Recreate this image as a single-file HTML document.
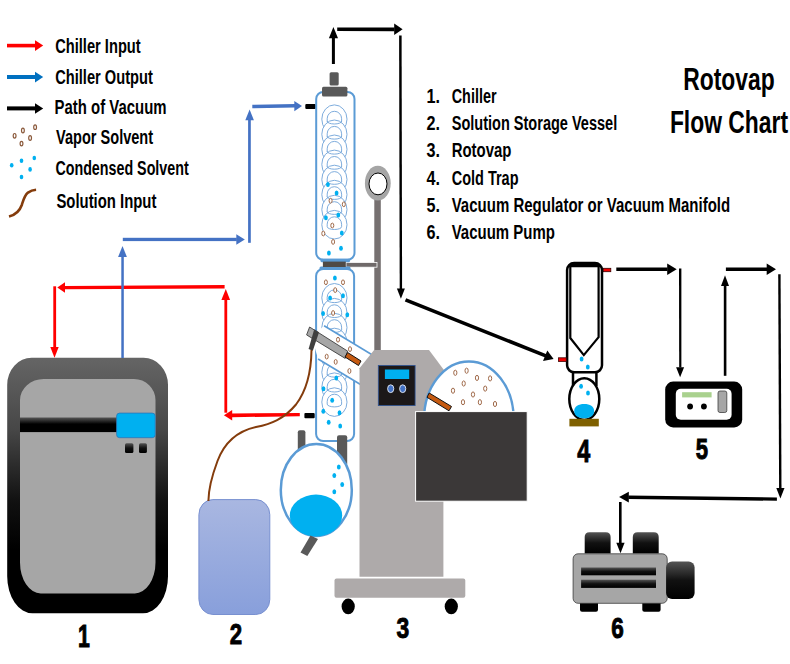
<!DOCTYPE html>
<html><head><meta charset="utf-8">
<style>
html,body{margin:0;padding:0;background:#fff;width:790px;height:664px;overflow:hidden}
svg{display:block}
text{font-family:"Liberation Sans",sans-serif;font-weight:bold;fill:#000}
</style></head>
<body>
<svg width="790" height="664" viewBox="0 0 790 664">
<defs>
<linearGradient id="chg" x1="0" y1="0" x2="0" y2="1">
<stop offset="0" stop-color="#656565"/><stop offset="0.28" stop-color="#474747"/><stop offset="0.56" stop-color="#111"/><stop offset="0.75" stop-color="#000"/><stop offset="1" stop-color="#000"/>
</linearGradient>
<linearGradient id="barg" x1="0" y1="0" x2="0" y2="1">
<stop offset="0" stop-color="#555"/><stop offset="0.45" stop-color="#000"/><stop offset="1" stop-color="#000"/>
</linearGradient>
<linearGradient id="vesg" x1="0" y1="0" x2="0" y2="1">
<stop offset="0" stop-color="#a9b7e1"/><stop offset="1" stop-color="#889fdb"/>
</linearGradient>
<linearGradient id="knobg" x1="0" y1="0" x2="0" y2="1">
<stop offset="0" stop-color="#555"/><stop offset="0.5" stop-color="#111"/><stop offset="1" stop-color="#000"/>
</linearGradient>
</defs>

<!-- ===== LEGEND ===== -->
<g id="legend">
<rect x="7" y="43.8" width="29" height="3.6" fill="#f00"/>
<polygon points="35,40.2 43.2,45.6 35,51" fill="#f00"/>
<rect x="7" y="75" width="29" height="4" fill="#0070c0"/>
<polygon points="35,71.8 43.2,77 35,82.4" fill="#0070c0"/>
<rect x="7" y="106.4" width="29" height="4" fill="#000"/>
<polygon points="35,103.2 43.2,108.5 35,113.8" fill="#000"/>
<text x="55.2" y="52.5" font-size="19.4" textLength="85.5" lengthAdjust="spacingAndGlyphs">Chiller Input</text>
<text x="55.2" y="83.8" font-size="19.4" textLength="97.6" lengthAdjust="spacingAndGlyphs">Chiller Output</text>
<text x="54.6" y="114.2" font-size="19.4" textLength="112" lengthAdjust="spacingAndGlyphs">Path of Vacuum</text>
<text x="56.1" y="143.7" font-size="19.4" textLength="97" lengthAdjust="spacingAndGlyphs">Vapor Solvent</text>
<text x="55.4" y="174.9" font-size="19.4" textLength="133.3" lengthAdjust="spacingAndGlyphs">Condensed Solvent</text>
<text x="56.4" y="207.8" font-size="19.4" textLength="100" lengthAdjust="spacingAndGlyphs">Solution Input</text>
<g fill="none" stroke="#8b5a3c" stroke-width="1.2">
<ellipse cx="22.9" cy="130.5" rx="1.4" ry="2.3"/>
<ellipse cx="35.1" cy="127.2" rx="1.4" ry="2.3"/>
<ellipse cx="14.6" cy="135.8" rx="1.4" ry="2.3"/>
<ellipse cx="30.1" cy="138" rx="1.4" ry="2.3"/>
<ellipse cx="21.5" cy="143.6" rx="1.4" ry="2.3"/>
</g>
<g fill="#00b0f0">
<ellipse cx="11.7" cy="165.2" rx="1.8" ry="2.3"/>
<ellipse cx="21.5" cy="160.7" rx="1.8" ry="2.3"/>
<ellipse cx="34.3" cy="158" rx="1.8" ry="2.3"/>
<ellipse cx="30.1" cy="169.4" rx="1.8" ry="2.3"/>
<ellipse cx="21.5" cy="177" rx="1.8" ry="2.3"/>
</g>
<path d="M9,216.6 C15,215 19.5,211.5 21.8,205 C23.5,199.5 24.5,195.5 28,192.6 C30.5,190.8 33,190 36.1,189.8" fill="none" stroke="#843c0c" stroke-width="2.6"/>
</g>

<!-- ===== CHILLER (1) ===== -->
<g id="chiller">
<path d="M31.6,357.8 H143.5 A24.5,27 0 0 1 168,384.8 V576.3 A25,37 0 0 1 143,613.3 H32.5 A25.3,37 0 0 1 7.2,576.3 V384.8 A24.4,27 0 0 1 31.6,357.8 Z" fill="url(#chg)"/>
<path d="M43.7,379 H134 A21.5,21 0 0 1 155.5,400 V562.4 A20.7,31 0 0 1 134.8,593.4 H40.7 A20.7,31 0 0 1 20,562.4 V400 A23.7,21 0 0 1 43.7,379 Z" fill="#a6a6a6"/>
<rect x="20" y="417.5" width="98" height="14.6" fill="url(#barg)"/>
<rect x="116.6" y="413.1" width="38.6" height="24.6" rx="3" fill="#00b0f0" stroke="#2e75b6" stroke-width="0.8"/>
<rect x="125" y="443.2" width="8.4" height="9.7" rx="1.5" fill="url(#knobg)"/>
<rect x="139" y="443.2" width="7.9" height="9.7" rx="1.5" fill="url(#knobg)"/>
</g>
<text transform="translate(77.91,646.75) scale(0.662,1)" font-size="32.12" stroke="#000" stroke-width="1.06">1</text>

<!-- ===== CHILLER LINES ===== -->
<g id="redlines" fill="#f00">
<rect x="53.3" y="286.3" width="2.8" height="61"/>
<polygon points="50.3,347 58.7,347 54.5,357.8"/>
<polygon points="64.8,286 224.6,285 224.6,288.4 64.8,289.2"/>
<polygon points="57.3,287.6 65,282.3 65,292.8"/>
<rect x="224.4" y="299" width="2.8" height="113.7"/>
<polygon points="221.4,300 230.1,300 225.8,289.1"/>
<polygon points="232,413.5 299.8,412.9 299.8,416.2 232,417.2"/>
<polygon points="223.9,415.3 232.2,410.1 232.2,420.5"/>
</g>
<g id="bluelines" fill="#4472c4">
<rect x="121.3" y="256" width="2.5" height="102"/>
<polygon points="118.1,257 126.9,257 122.5,245.9"/>
<rect x="122.8" y="237.8" width="114" height="3.3"/>
<polygon points="236.3,234.2 244.8,239.4 236.3,244.8"/>
<rect x="248.1" y="118" width="2.7" height="124.8"/>
<polygon points="245.3,120.2 253.9,120.2 249.6,109.4"/>
<polygon points="252.3,104.8 295,104 295,107.5 252.3,108.2"/>
<polygon points="294.3,100.9 302,105.9 294.3,111.2"/>
</g>
<rect x="305.3" y="104.1" width="10.5" height="5" rx="1" fill="#000"/>
<rect x="304.4" y="413.1" width="10.3" height="5.2" rx="1" fill="#000"/>

<!-- ===== STORAGE VESSEL (2) ===== -->
<rect x="198.9" y="499.6" width="70.9" height="114.9" rx="14" ry="15" fill="url(#vesg)" stroke="#7890d0" stroke-width="1"/>

<text transform="translate(229.68,643.65) scale(0.739,1)" font-size="30.08" stroke="#000" stroke-width="0.95">2</text>

<!-- ===== ROTOVAP (3) ===== -->
<g id="rotovap">
<!-- pole + ring -->
<rect x="374.3" y="195" width="6.5" height="160" fill="#767070"/>
<ellipse cx="377.8" cy="183.2" rx="12.9" ry="17.4" fill="#a5a5a5"/>
<ellipse cx="378" cy="183.9" rx="9" ry="10.9" fill="#fff" stroke="#000" stroke-width="1"/>
<rect x="346" y="262.4" width="31" height="4.8" fill="#6f6969" stroke="#fff" stroke-width="0.8"/>
<!-- condensers -->
<rect x="316.2" y="92" width="38.3" height="167.8" rx="7" fill="#fff" stroke="#5b9bd5" stroke-width="2"/>
<rect x="316.1" y="269" width="38" height="172" rx="7" fill="#fff" stroke="#5b9bd5" stroke-width="2"/>
<g fill="none" stroke="#6fa3d8" stroke-width="0.9">
<ellipse cx="334.4" cy="119.2" rx="12.6" ry="14.3" fill="#fff"/><path d="M327.2,121.2 V118.7 A7.2,7.4 0 0 1 341.6,118.7 V121.2 A7.2,2.8 0 0 1 327.2,121.2 Z"/><ellipse cx="334.4" cy="134.3" rx="12.6" ry="14.3" fill="#fff"/><path d="M327.2,136.3 V133.8 A7.2,7.4 0 0 1 341.6,133.8 V136.3 A7.2,2.8 0 0 1 327.2,136.3 Z"/><ellipse cx="334.4" cy="149.3" rx="12.6" ry="14.3" fill="#fff"/><path d="M327.2,151.3 V148.8 A7.2,7.4 0 0 1 341.6,148.8 V151.3 A7.2,2.8 0 0 1 327.2,151.3 Z"/><ellipse cx="334.4" cy="164.4" rx="12.6" ry="14.3" fill="#fff"/><path d="M327.2,166.4 V163.9 A7.2,7.4 0 0 1 341.6,163.9 V166.4 A7.2,2.8 0 0 1 327.2,166.4 Z"/><ellipse cx="334.4" cy="179.5" rx="12.6" ry="14.3" fill="#fff"/><path d="M327.2,181.5 V179.0 A7.2,7.4 0 0 1 341.6,179.0 V181.5 A7.2,2.8 0 0 1 327.2,181.5 Z"/><ellipse cx="334.4" cy="194.6" rx="12.6" ry="14.3" fill="#fff"/><path d="M327.2,196.6 V194.1 A7.2,7.4 0 0 1 341.6,194.1 V196.6 A7.2,2.8 0 0 1 327.2,196.6 Z"/><ellipse cx="334.4" cy="209.6" rx="12.6" ry="14.3" fill="#fff"/><path d="M327.2,211.6 V209.1 A7.2,7.4 0 0 1 341.6,209.1 V211.6 A7.2,2.8 0 0 1 327.2,211.6 Z"/><ellipse cx="334.4" cy="224.7" rx="12.6" ry="14.3" fill="#fff"/><path d="M327.2,226.7 V224.2 A7.2,7.4 0 0 1 341.6,224.2 V226.7 A7.2,2.8 0 0 1 327.2,226.7 Z"/><ellipse cx="334.4" cy="297.8" rx="12.6" ry="14.3" fill="#fff"/><path d="M327.2,299.8 V297.3 A7.2,7.4 0 0 1 341.6,297.3 V299.8 A7.2,2.8 0 0 1 327.2,299.8 Z"/><ellipse cx="334.4" cy="312.7" rx="12.6" ry="14.3" fill="#fff"/><path d="M327.2,314.7 V312.2 A7.2,7.4 0 0 1 341.6,312.2 V314.7 A7.2,2.8 0 0 1 327.2,314.7 Z"/><ellipse cx="334.4" cy="327.6" rx="12.6" ry="14.3" fill="#fff"/><path d="M327.2,329.6 V327.1 A7.2,7.4 0 0 1 341.6,327.1 V329.6 A7.2,2.8 0 0 1 327.2,329.6 Z"/><ellipse cx="334.4" cy="342.5" rx="12.6" ry="14.3" fill="#fff"/><path d="M327.2,344.5 V342.0 A7.2,7.4 0 0 1 341.6,342.0 V344.5 A7.2,2.8 0 0 1 327.2,344.5 Z"/><ellipse cx="334.4" cy="357.4" rx="12.6" ry="14.3" fill="#fff"/><path d="M327.2,359.4 V356.9 A7.2,7.4 0 0 1 341.6,356.9 V359.4 A7.2,2.8 0 0 1 327.2,359.4 Z"/><ellipse cx="334.4" cy="372.3" rx="12.6" ry="14.3" fill="#fff"/><path d="M327.2,374.3 V371.8 A7.2,7.4 0 0 1 341.6,371.8 V374.3 A7.2,2.8 0 0 1 327.2,374.3 Z"/><ellipse cx="334.4" cy="387.2" rx="12.6" ry="14.3" fill="#fff"/><path d="M327.2,389.2 V386.7 A7.2,7.4 0 0 1 341.6,386.7 V389.2 A7.2,2.8 0 0 1 327.2,389.2 Z"/><ellipse cx="334.4" cy="402.1" rx="12.6" ry="14.3" fill="#fff"/><path d="M327.2,404.1 V401.6 A7.2,7.4 0 0 1 341.6,401.6 V404.1 A7.2,2.8 0 0 1 327.2,404.1 Z"/><path d="M327.2,121.2 A7.2,2.8 0 0 0 341.6,121.2"/><path d="M327.2,136.3 A7.2,2.8 0 0 0 341.6,136.3"/><path d="M327.2,151.3 A7.2,2.8 0 0 0 341.6,151.3"/><path d="M327.2,166.4 A7.2,2.8 0 0 0 341.6,166.4"/><path d="M327.2,181.5 A7.2,2.8 0 0 0 341.6,181.5"/><path d="M327.2,196.6 A7.2,2.8 0 0 0 341.6,196.6"/><path d="M327.2,211.6 A7.2,2.8 0 0 0 341.6,211.6"/><path d="M327.2,299.8 A7.2,2.8 0 0 0 341.6,299.8"/><path d="M327.2,314.7 A7.2,2.8 0 0 0 341.6,314.7"/><path d="M327.2,329.6 A7.2,2.8 0 0 0 341.6,329.6"/><path d="M327.2,344.5 A7.2,2.8 0 0 0 341.6,344.5"/><path d="M327.2,359.4 A7.2,2.8 0 0 0 341.6,359.4"/><path d="M327.2,374.3 A7.2,2.8 0 0 0 341.6,374.3"/><path d="M327.2,389.2 A7.2,2.8 0 0 0 341.6,389.2"/>
</g>
<rect x="320.5" y="258.8" width="29.5" height="3.4" rx="1.5" fill="#5b9bd5"/>
<rect x="319.5" y="266.6" width="31" height="3.4" rx="1.5" fill="#5b9bd5"/>
<rect x="322.9" y="261.6" width="22.9" height="5.4" fill="#4f4a46"/>
<rect x="329.6" y="72.3" width="9.1" height="13.2" rx="1.5" fill="#595959"/>
<rect x="322" y="86.7" width="25.4" height="9.9" rx="1.5" fill="#595959"/>
</g>

<!-- condenser drops -->
<g fill="#00b0f0"><ellipse cx="327.9" cy="184.4" rx="1.9" ry="2.5"/><ellipse cx="336.6" cy="193.1" rx="1.9" ry="2.5"/><ellipse cx="325.9" cy="217.8" rx="1.9" ry="2.5"/><ellipse cx="338.3" cy="215.0" rx="1.9" ry="2.5"/><ellipse cx="341.8" cy="233.1" rx="1.9" ry="2.5"/><ellipse cx="328.9" cy="253.0" rx="1.9" ry="2.5"/><ellipse cx="341.0" cy="248.2" rx="1.9" ry="2.5"/><ellipse cx="334.9" cy="278.0" rx="1.9" ry="2.5"/><ellipse cx="330.1" cy="298.0" rx="1.9" ry="2.5"/><ellipse cx="343.0" cy="295.8" rx="1.9" ry="2.5"/><ellipse cx="323.1" cy="313.6" rx="1.9" ry="2.5"/><ellipse cx="347.3" cy="314.8" rx="1.9" ry="2.5"/><ellipse cx="336.3" cy="377.9" rx="1.9" ry="2.5"/><ellipse cx="323.5" cy="388.8" rx="1.9" ry="2.5"/><ellipse cx="332.2" cy="400.3" rx="1.9" ry="2.5"/><ellipse cx="323.3" cy="411.2" rx="1.9" ry="2.5"/><ellipse cx="339.5" cy="412.8" rx="1.9" ry="2.5"/><ellipse cx="328.7" cy="422.3" rx="1.9" ry="2.5"/><ellipse cx="340.2" cy="426.1" rx="1.9" ry="2.5"/></g>
<g fill="#fff" stroke="#a06a4a" stroke-width="1"><ellipse cx="330.6" cy="200.7" rx="1.5" ry="2.4"/><ellipse cx="343.8" cy="204.3" rx="1.5" ry="2.4"/><ellipse cx="332.3" cy="225.5" rx="1.5" ry="2.4"/><ellipse cx="323.3" cy="233.5" rx="1.5" ry="2.4"/><ellipse cx="333.1" cy="241.9" rx="1.5" ry="2.4"/><ellipse cx="325.9" cy="282.3" rx="1.5" ry="2.4"/><ellipse cx="343.0" cy="282.3" rx="1.5" ry="2.4"/><ellipse cx="335.2" cy="290.1" rx="1.5" ry="2.4"/><ellipse cx="333.1" cy="313.0" rx="1.5" ry="2.4"/></g>

<!-- receiving flask -->
<rect x="297.8" y="430.3" width="7.6" height="25" rx="2" fill="#595959"/>
<rect x="337" y="435.3" width="10.2" height="30" rx="2" fill="#595959"/>
<ellipse cx="316.3" cy="489.9" rx="35.5" ry="46" fill="#fff" stroke="#5b9bd5" stroke-width="2.5"/>
<ellipse cx="316" cy="515.5" rx="26.2" ry="20.9" fill="#00b0f0"/>
<g fill="#00b0f0"><ellipse cx="338.8" cy="466.9" rx="1.9" ry="2.5"/><ellipse cx="334.3" cy="475.5" rx="1.9" ry="2.5"/><ellipse cx="342.2" cy="484.5" rx="1.9" ry="2.5"/><ellipse cx="334.3" cy="491.7" rx="1.9" ry="2.5"/></g>
<polygon points="310.5,535.5 318,539 307.3,556 300.5,552.5" fill="#595959"/>
<!-- vapor duct -->
<polygon points="324.1,325.8 384,362 368,389 318.1,359 314,345 316,333" fill="#fff"/>
<line x1="324.1" y1="325.8" x2="384" y2="362" stroke="#5b9bd5" stroke-width="1.6"/>
<line x1="318.1" y1="359" x2="368" y2="389" stroke="#5b9bd5" stroke-width="1.6"/>
<g fill="#fff" stroke="#a06a4a" stroke-width="1">
<ellipse cx="338" cy="339.7" rx="1.5" ry="2.4"/><ellipse cx="350" cy="349.1" rx="1.5" ry="2.4"/><ellipse cx="326.7" cy="356.6" rx="1.5" ry="2.4"/><ellipse cx="349.4" cy="371" rx="1.5" ry="2.4"/><ellipse cx="335.7" cy="361.9" rx="1.5" ry="2.4"/>
</g>
<!-- rod -->
<polygon points="309.6,327 347.6,351.1 345.2,358.4 306.6,334.9" fill="#a6a6a6" stroke="#404040" stroke-width="0.9"/>
<polygon points="347.6,352.5 361,361 358.5,365.5 345,357" fill="#c55a11" stroke="#111" stroke-width="1"/>
<polygon points="314.2,329.2 319,332.2 312.8,350.8 308.6,349" fill="#3f3f3f"/>
<!-- solution tube upper -->
<path d="M311.5,350 C311.2,372 305.5,392 296,404.5 C284,419 271,424 256,427 C238,431 225,441 217.5,461 C211.5,477 208.5,490 208.4,501" fill="none" stroke="#843c0c" stroke-width="2"/>
<!-- body -->
<polygon points="374.1,349.9 429,349.9 443.4,369.2 443.4,576.7 359.5,576.7 359.5,368.3" fill="#aeaaaa"/>
<rect x="378.3" y="365.4" width="36.8" height="40.2" fill="#1c1818" stroke="#2f5597" stroke-width="0.8"/>
<rect x="384.9" y="369.5" width="24.3" height="9.5" fill="#00b0f0"/>
<ellipse cx="390.7" cy="388.7" rx="3.1" ry="3.9" fill="#4472c4" stroke="#fff" stroke-width="0.8"/>
<ellipse cx="402.7" cy="388.7" rx="3.1" ry="3.9" fill="#4472c4" stroke="#fff" stroke-width="0.8"/>
<!-- evaporating flask -->
<ellipse cx="468.9" cy="419" rx="44.8" ry="57.5" fill="#fff" stroke="#5b9bd5" stroke-width="2.4"/>
<g fill="#fff" stroke="#a06a4a" stroke-width="1">
<ellipse cx="455.3" cy="372.8" rx="1.6" ry="2.6"/><ellipse cx="466.6" cy="370.7" rx="1.6" ry="2.6"/><ellipse cx="477" cy="377.9" rx="1.6" ry="2.6"/><ellipse cx="490.1" cy="378.4" rx="1.6" ry="2.6"/><ellipse cx="463.7" cy="383.5" rx="1.6" ry="2.6"/><ellipse cx="485.2" cy="388.6" rx="1.6" ry="2.6"/><ellipse cx="453" cy="390.7" rx="1.6" ry="2.6"/><ellipse cx="473" cy="394.5" rx="1.6" ry="2.6"/><ellipse cx="463" cy="402.2" rx="1.6" ry="2.6"/><ellipse cx="479.9" cy="402.2" rx="1.6" ry="2.6"/><ellipse cx="495" cy="404" rx="1.6" ry="2.6"/>
</g>
<polygon points="429.2,393 451.5,406.5 449,410.8 427,397.3" fill="#c55a11" stroke="#111" stroke-width="1"/>
<rect x="415.6" y="411.6" width="111.6" height="89.6" fill="#3b3838" stroke="#fff" stroke-width="1"/>
<!-- base -->
<rect x="334.5" y="578.4" width="130.8" height="19.3" rx="2" fill="#aeaaaa"/>
<ellipse cx="348.2" cy="606.4" rx="6.6" ry="7.8" fill="#000"/>
<ellipse cx="451.3" cy="606.4" rx="6.6" ry="7.8" fill="#000"/>

<text transform="translate(396.42,637.53) scale(0.794,1)" font-size="28.89" stroke="#000" stroke-width="0.88">3</text>
<!-- ===== VACUUM PATH ===== -->
<g fill="#000">
<rect x="331.9" y="37" width="3" height="27"/>
<polygon points="328.9,38.2 338,38.2 333.4,27"/>
<polygon points="337.2,27.5 394.5,27.6 394.5,31.2 337.2,31.1"/>
<polygon points="394.2,23.6 402.6,29.3 394.2,35"/>
<polygon points="399.1,35.5 401.6,35.5 402.1,289 399.7,289"/>
<polygon points="396.9,288.5 404.9,288.5 400.9,298.7"/>
<polygon points="404.83,301.57 406.17,298.23 546.5,354.2 545.2,357.6"/>
<polygon points="547.3,350.5 553.6,359.1 543,361"/>
<polygon points="616.3,267.5 667.5,267.6 667.5,271 616.3,270.9"/>
<polygon points="667.2,263.5 676.7,269.2 667.2,274.9"/>
<polygon points="679,268.6 681.4,268.6 681.4,367.5 679.2,367.5"/>
<polygon points="676.1,367.3 684.1,367.3 680.1,377.3"/>
<rect x="723.8" y="285.8" width="2.6" height="90"/>
<polygon points="721,285.9 729,285.9 725,275.2"/>
<polygon points="725.9,267.5 767,267.6 767,271 725.9,270.9"/>
<polygon points="766.7,263.5 776,269.2 766.7,274.9"/>
<polygon points="778.2,274.3 780.6,274.3 781.5,488.5 779.1,488.5"/>
<polygon points="776.3,488 784.5,488 780.4,498.5"/>
<polygon points="628.4,495.6 776.9,497.4 776.9,500.8 628.4,498.9"/>
<polygon points="619.1,497.1 628.8,491.8 628.8,502.4"/>
<rect x="619" y="502" width="2.6" height="41"/>
<polygon points="616.3,542.8 624.6,542.8 620.5,553.3"/>
</g>

<!-- ===== COLD TRAP (4) ===== -->
<g id="coldtrap">
<rect x="567.1" y="263" width="34.9" height="109.3" rx="7" fill="#fff" stroke="#000" stroke-width="2.5"/>
<path d="M569,266.6 C569.5,265 571,263.8 574,263.8 H595 C598,263.8 599.5,265 600,266.6 Z" fill="#000" stroke="#000" stroke-width="1.2"/>
<polyline points="570.3,266 570.3,338 583.8,355.1 598.6,337.1 598.6,266" fill="none" stroke="#000" stroke-width="2.2"/>
<rect x="603.3" y="268.3" width="7.5" height="3.4" fill="#f00000" stroke="#3a0000" stroke-width="0.8"/>
<rect x="558.5" y="357.8" width="7.8" height="3.6" fill="#f00000" stroke="#3a0000" stroke-width="0.8"/>
<g fill="#00b0f0"><ellipse cx="581.6" cy="359.1" rx="1.9" ry="2.5"/><ellipse cx="587.8" cy="366.9" rx="1.9" ry="2.5"/><ellipse cx="581.1" cy="386.2" rx="1.9" ry="2.5"/><ellipse cx="588" cy="393" rx="1.9" ry="2.5"/></g>
<polyline points="573,372 573,386" fill="none" stroke="#000" stroke-width="2.5"/>
<polyline points="596.4,372 596.4,386" fill="none" stroke="#000" stroke-width="2.5"/>
<ellipse cx="584.3" cy="399.1" rx="15" ry="20.8" fill="none" stroke="#000" stroke-width="2.5"/>
<path d="M574.2,411 C574.2,406 578.5,403.9 584.2,403.9 C590,403.9 594.1,406 594.1,411 C594.1,416 590,418.3 584.2,418.3 C578.5,418.3 574.2,416 574.2,411 Z" fill="#00b0f0"/>
<rect x="569.4" y="418.8" width="29.4" height="7.6" fill="#7f6000"/>
</g>
<text transform="translate(577.20,462.15) scale(0.723,1)" font-size="32.27" stroke="#000" stroke-width="0.97">4</text>

<!-- ===== REGULATOR (5) ===== -->
<g id="regulator">
<rect x="665.2" y="381.6" width="77" height="45.8" rx="8" fill="#000"/>
<rect x="675.8" y="388.8" width="55.8" height="30.9" rx="5" fill="#fff"/>
<rect x="682.1" y="392.2" width="29.5" height="5.2" fill="#a9d18e"/>
<rect x="718" y="391" width="8.8" height="21.5" rx="2" fill="#a6a6a6" stroke="#404040" stroke-width="0.8"/>
<circle cx="690.1" cy="406.5" r="2.9" fill="#000"/>
<circle cx="703.9" cy="406.5" r="2.9" fill="#000"/>
</g>
<text transform="translate(695.77,459.45) scale(0.728,1)" font-size="30.38" stroke="#000" stroke-width="0.96">5</text>

<!-- ===== PUMP (6) ===== -->
<g id="pump">
<path d="M584.7,553.5 V537 Q584.7,532.2 589.5,532.2 H605.8 Q610.6,532.2 610.6,537 V553.5 Z" fill="url(#knobg)"/>
<path d="M632.8,553.5 V537 Q632.8,532.2 637.6,532.2 H653.9 Q658.7,532.2 658.7,537 V553.5 Z" fill="url(#knobg)"/>
<rect x="580" y="600" width="18" height="11.8" rx="2" fill="#000"/>
<rect x="642.3" y="600" width="18.3" height="11.8" rx="2" fill="#000"/>
<rect x="573.1" y="553.8" width="94.1" height="49.5" rx="5" fill="#a6a6a6" stroke="#3a3a3a" stroke-width="0.8"/>
<rect x="581.1" y="567.5" width="74.9" height="7.8" fill="url(#knobg)"/>
<rect x="581.1" y="579.7" width="74.9" height="8.2" fill="url(#knobg)"/>
<rect x="666.1" y="561.6" width="28.5" height="37.5" rx="6" fill="url(#knobg)"/>
</g>
<text transform="translate(611.22,638.16) scale(0.757,1)" font-size="29.80" stroke="#000" stroke-width="0.93">6</text>

<!-- ===== LIST + TITLE ===== -->
<text x="426.4" y="102.9" font-size="19.4" textLength="13.5" lengthAdjust="spacingAndGlyphs">1.</text>
<text x="426.4" y="130" font-size="19.4" textLength="13.5" lengthAdjust="spacingAndGlyphs">2.</text>
<text x="426.4" y="157.4" font-size="19.4" textLength="13.5" lengthAdjust="spacingAndGlyphs">3.</text>
<text x="426.4" y="185.1" font-size="19.4" textLength="13.5" lengthAdjust="spacingAndGlyphs">4.</text>
<text x="426.4" y="212.4" font-size="19.4" textLength="13.5" lengthAdjust="spacingAndGlyphs">5.</text>
<text x="426.4" y="239.4" font-size="19.4" textLength="13.5" lengthAdjust="spacingAndGlyphs">6.</text>
<text x="451.7" y="102.9" font-size="19.4" textLength="44.8" lengthAdjust="spacingAndGlyphs">Chiller</text>
<text x="451.7" y="130" font-size="19.4" textLength="165.5" lengthAdjust="spacingAndGlyphs">Solution Storage Vessel</text>
<text x="451.7" y="157.4" font-size="19.4" textLength="59.8" lengthAdjust="spacingAndGlyphs">Rotovap</text>
<text x="451.7" y="185.1" font-size="19.4" textLength="66.8" lengthAdjust="spacingAndGlyphs">Cold Trap</text>
<text x="451.7" y="212.4" font-size="19.4" textLength="278.5" lengthAdjust="spacingAndGlyphs">Vacuum Regulator or Vacuum Manifold</text>
<text x="451.7" y="239.4" font-size="19.4" textLength="103.2" lengthAdjust="spacingAndGlyphs">Vacuum Pump</text>
<text x="683.3" y="90" font-size="30.6" textLength="91.4" lengthAdjust="spacingAndGlyphs">Rotovap</text>
<text x="669.9" y="132.7" font-size="30.5" textLength="118.2" lengthAdjust="spacingAndGlyphs">Flow Chart</text>

</svg>
</body></html>
